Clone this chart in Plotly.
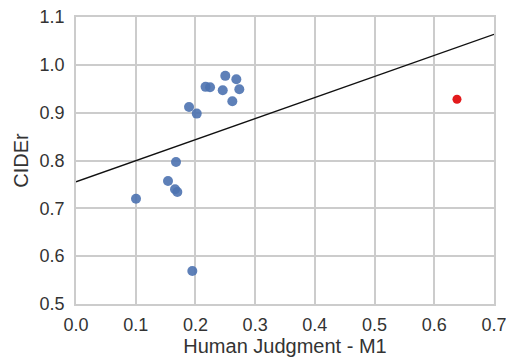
import numpy as np
import plotly.graph_objects as go

# Human Judgment - M1 (x) and CIDEr (y) for the automatic captioning entries
human_m1 = [0.217, 0.2245, 0.250, 0.2685, 0.2457, 0.2735, 0.2618, 0.1893,
            0.2022, 0.1675, 0.1541, 0.1658, 0.1697, 0.1005, 0.1948]
cider = [0.954, 0.953, 0.977, 0.970, 0.947, 0.949, 0.924, 0.912,
         0.898, 0.797, 0.757, 0.740, 0.734, 0.720, 0.569]
# Human entry (highlighted)
human_x = [0.638]
human_y = [0.928]

x_ticks = [0.0, 0.1, 0.2, 0.3, 0.4, 0.5, 0.6, 0.7]
y_ticks = [0.5, 0.6, 0.7, 0.8, 0.9, 1.0, 1.1]

all_x = np.array(human_m1 + human_x)
all_y = np.array(cider + human_y)
slope, intercept = np.polyfit(all_x, all_y, 1)
line_x = np.array([x_ticks[0], x_ticks[-1]])
line_y = slope * line_x + intercept

fig = go.Figure()
fig.add_trace(go.Scatter(x=line_x, y=line_y, mode="lines",
                         line=dict(color="#111111", width=1.4),
                         showlegend=False, hoverinfo="skip"))
fig.add_trace(go.Scatter(x=human_m1, y=cider, mode="markers",
                         marker=dict(color="rgba(76,114,176,0.9)", size=10,
                                     line=dict(width=0)),
                         showlegend=False))
fig.add_trace(go.Scatter(x=human_x, y=human_y, mode="markers",
                         marker=dict(color="#e31a1c", size=9, line=dict(width=0)),
                         showlegend=False))

font_color = "#333333"
fam = "Liberation Sans, Arial, sans-serif"
axis_common = dict(showgrid=True, gridcolor="#cccccc", gridwidth=1.5,
                   showline=True, linecolor="#cccccc", linewidth=1.5, mirror=True,
                   zeroline=False, automargin=False, ticklabeloverflow="allow",
                   tickfont=dict(family=fam, size=18, color=font_color))

fig.update_layout(
    width=506, height=361,
    margin=dict(l=76, r=12, t=17, b=57),
    paper_bgcolor="white", plot_bgcolor="white",
    font=dict(family=fam, color=font_color),
    xaxis=dict(range=[x_ticks[0], x_ticks[-1]], tickvals=x_ticks,
               ticktext=[f"{v:.1f}" for v in x_ticks],
               ticks="outside", ticklen=4, tickcolor="rgba(0,0,0,0)",
               title=dict(text="Human Judgment - M1", font=dict(size=20), standoff=4),
               **axis_common),
    yaxis=dict(range=[y_ticks[0], y_ticks[-1]], tickvals=y_ticks,
               ticktext=[f"{v:.1f}" for v in y_ticks],
               ticks="outside", ticklen=6, tickcolor="rgba(0,0,0,0)",
               title=dict(text="CIDEr", font=dict(size=20), standoff=6),
               **axis_common),
)

# remove the default 8px page margin so the figure fills the window exactly
fig.write_html("out.html",
               config={"displayModeBar": False},
               post_script="document.body.style.margin='0';"
                           "document.body.style.overflow='hidden';")
